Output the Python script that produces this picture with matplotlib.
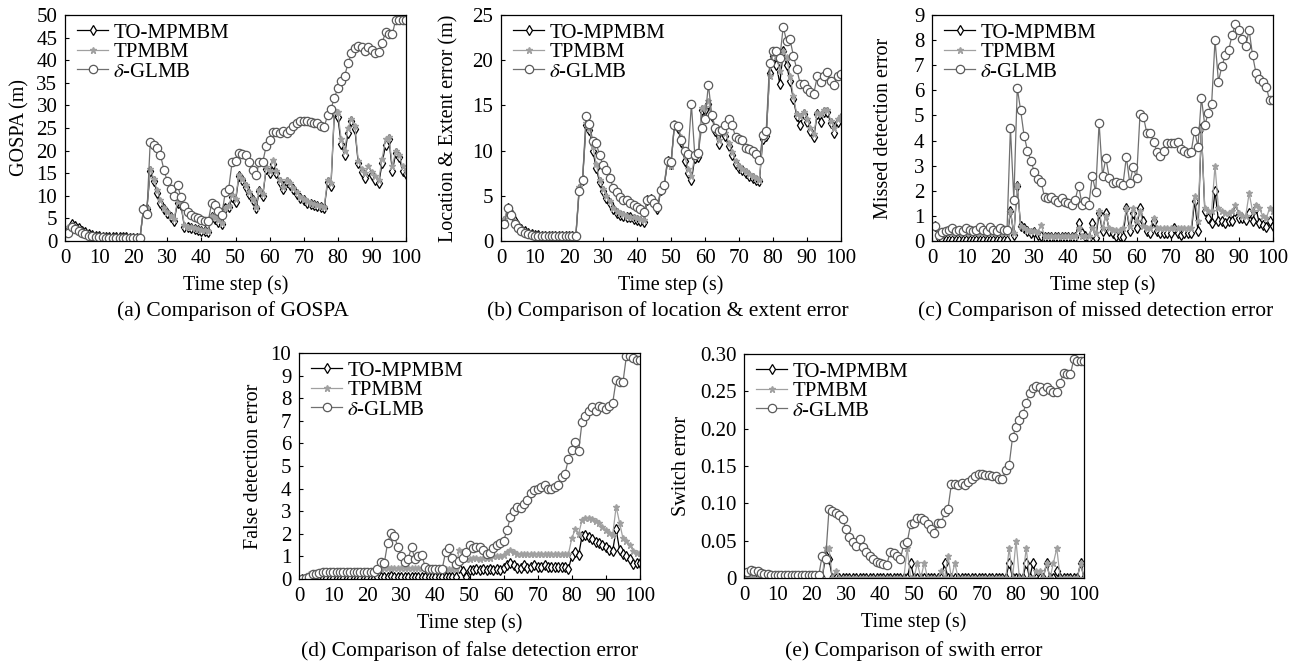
import numpy as np
import matplotlib
matplotlib.use("Agg")
import matplotlib.pyplot as plt
from matplotlib.ticker import FuncFormatter

plt.rcParams['font.family'] = ['Liberation Serif', 'DejaVu Serif']
plt.rcParams['mathtext.fontset'] = 'stix'

steps = list(range(1, 101))
labels = ['TO-MPMBM', 'TPMBM', r'$\delta$-GLMB']

# ---------------- (a) GOSPA ----------------
a_to = [2.5, 3.8, 3.3, 2.8, 2.3, 1.9, 1.6, 1.3, 1.1, 1.0,
        0.9, 0.9, 0.8, 0.8, 0.8, 0.8, 0.8, 0.8, 0.7, 0.7,
        0.7, 0.7, 7.0, 7.0, 15.5, 13.3, 10.7, 8.5, 7.0, 6.2,
        5.2, 4.5, 8.5, 8.0, 3.2, 3.0, 2.8, 2.6, 2.5, 2.3,
        2.2, 2.1, 5.3, 4.8, 4.3, 3.7, 7.2, 7.5, 9.8, 8.7,
        14.3, 13.5, 12.0, 10.5, 9.0, 7.2, 11.0, 10.0, 16.0, 15.0,
        17.0, 15.0, 13.0, 11.5, 13.0, 12.5, 11.5, 10.5, 9.5, 9.0,
        8.5, 8.2, 8.0, 7.7, 7.5, 7.2, 13.0, 12.2, 28.5, 27.5,
        21.5, 19.0, 24.0, 26.5, 24.8, 17.2, 15.3, 14.0, 15.5, 14.5,
        13.5, 12.8, 17.2, 21.3, 22.5, 15.5, 19.5, 18.5, 15.5, 14.8]
a_tp = [3.0, 3.5, 3.0, 2.6, 2.1, 1.7, 1.4, 1.2, 1.0, 0.9,
        0.9, 0.9, 0.9, 0.9, 0.9, 0.9, 0.9, 0.9, 0.8, 0.8,
        0.8, 0.8, 7.2, 7.2, 16.0, 13.8, 11.2, 9.0, 7.3, 6.5,
        5.6, 4.9, 8.8, 8.3, 3.5, 3.2, 3.0, 2.8, 2.7, 2.5,
        2.4, 2.3, 5.6, 5.2, 4.6, 4.0, 7.4, 7.7, 10.2, 9.2,
        14.7, 13.8, 12.3, 10.8, 9.3, 7.6, 11.3, 10.3, 16.3, 15.5,
        18.0, 15.5, 13.5, 12.0, 13.5, 12.8, 11.8, 10.8, 9.8, 9.2,
        8.8, 8.5, 8.2, 8.0, 7.8, 7.5, 13.5, 12.8, 29.0, 28.5,
        22.5, 20.0, 25.0, 27.0, 25.5, 17.8, 16.0, 15.0, 16.5, 15.3,
        14.3, 13.5, 18.2, 22.5, 23.0, 16.5, 20.0, 19.0, 16.5, 15.5]
a_gl = [1.8, 3.0, 2.7, 2.2, 1.8, 1.5, 1.2, 1.0, 0.9, 0.8,
        0.8, 0.7, 0.7, 0.7, 0.7, 0.7, 0.7, 0.7, 0.7, 0.7,
        0.7, 0.7, 7.0, 6.0, 22.0, 21.3, 20.5, 19.0, 15.8, 13.2,
        11.5, 10.0, 12.3, 9.7, 7.8, 6.5, 5.8, 5.3, 5.0, 4.7,
        4.5, 4.4, 8.3, 8.0, 6.7, 5.8, 10.8, 11.6, 17.4, 17.6,
        19.5, 19.3, 19.0, 17.5, 15.8, 14.5, 17.5, 17.5, 21.0, 22.3,
        24.2, 24.2, 24.0, 24.3, 24.0, 24.5, 25.5, 26.2, 26.5, 26.6,
        26.5, 26.4, 26.2, 26.0, 25.5, 25.2, 27.8, 29.2, 31.7, 33.8,
        35.5, 36.5, 39.3, 41.5, 42.8, 43.2, 43.0, 42.0, 43.0, 42.2,
        41.6, 41.8, 43.8, 46.2, 45.8, 45.8, 49.0, 49.0, 48.8, 48.8]

# ---------------- (b) Location & extent ----------------
b_to = [2.2, 3.6, 3.1, 2.2, 1.7, 1.3, 1.1, 0.9, 0.8, 0.7,
        0.7, 0.6, 0.6, 0.6, 0.6, 0.6, 0.6, 0.6, 0.5, 0.5,
        0.5, 0.5, 5.8, 6.8, 12.8, 12.3, 10.0, 8.1, 6.5, 5.5,
        4.8, 4.2, 3.5, 3.1, 2.9, 2.8, 2.7, 2.6, 2.4, 2.3,
        2.2, 2.1, 4.5, 4.7, 4.2, 3.5, 5.6, 6.1, 8.8, 8.5,
        12.8, 12.5, 11.0, 8.8, 7.5, 6.7, 9.2, 9.3, 14.5, 14.5,
        15.2, 13.8, 12.2, 10.7, 12.2, 11.6, 10.5, 9.5, 8.5, 8.1,
        7.8, 7.5, 7.2, 7.0, 6.8, 6.6, 11.3, 11.6, 18.6, 20.5,
        19.5, 17.4, 21.0, 19.5, 17.7, 15.7, 13.8, 12.8, 14.0, 13.2,
        12.2, 11.5, 14.0, 13.2, 14.3, 14.3, 13.0, 12.0, 13.2, 13.6]
b_tp = [2.4, 3.7, 3.0, 2.1, 1.6, 1.2, 1.0, 0.9, 0.8, 0.7,
        0.7, 0.7, 0.6, 0.6, 0.6, 0.6, 0.6, 0.6, 0.6, 0.6,
        0.6, 0.6, 6.0, 7.0, 13.0, 12.5, 10.5, 8.5, 6.8, 5.8,
        5.0, 4.4, 3.7, 3.3, 3.1, 3.0, 2.8, 2.7, 2.6, 2.5,
        2.4, 2.3, 4.6, 4.8, 4.4, 3.8, 5.8, 6.3, 9.0, 8.3,
        13.0, 12.7, 11.5, 9.5, 8.0, 7.2, 9.5, 9.6, 14.7, 14.8,
        15.5, 14.0, 12.5, 11.2, 12.5, 12.0, 10.8, 9.8, 8.8, 8.3,
        8.0, 7.7, 7.4, 7.2, 7.0, 6.8, 11.5, 11.8, 18.3, 20.8,
        20.5, 18.8, 21.0, 20.3, 18.3, 16.0, 14.0, 13.8, 14.3, 13.5,
        12.5, 11.8, 14.2, 14.0, 14.5, 14.5, 13.3, 12.5, 13.5, 13.8]
b_gl = [1.9, 3.6, 2.9, 1.9, 1.4, 1.1, 0.9, 0.8, 0.7, 0.6,
        0.6, 0.6, 0.6, 0.5, 0.5, 0.5, 0.5, 0.5, 0.5, 0.5,
        0.5, 0.5, 5.5, 6.8, 13.8, 12.9, 11.1, 10.8, 9.5, 8.4,
        7.8, 7.0, 5.9, 5.4, 4.9, 4.5, 4.5, 4.2, 4.0, 3.8,
        3.5, 3.2, 4.5, 4.7, 4.2, 3.8, 5.6, 6.2, 8.9, 8.7,
        12.8, 12.7, 11.2, 10.0, 9.6, 15.1, 9.5, 9.7, 12.5, 13.5,
        17.3, 13.9, 12.5, 12.2, 12.3, 12.8, 13.5, 12.8, 11.5, 11.3,
        11.2, 10.3, 10.2, 10.0, 9.6, 9.0, 11.7, 12.2, 19.7, 21.0,
        21.0, 20.2, 23.7, 22.1, 22.3, 20.5, 19.0, 17.4, 17.4, 16.8,
        16.5, 16.3, 18.2, 17.6, 18.2, 18.7, 17.7, 17.3, 18.2, 18.5]

# ---------------- (c) Missed detection ----------------
c_to = [0.6, 0.1, 0.05, 0.05, 0.05, 0.05, 0.05, 0.05, 0.05, 0.05,
        0.05, 0.05, 0.05, 0.05, 0.05, 0.05, 0.05, 0.05, 0.05, 0.05,
        0.05, 0.05, 1.2, 0.25, 2.2, 0.6, 0.5, 0.4, 0.3, 0.35,
        0.25, 0.2, 0.15, 0.15, 0.15, 0.15, 0.15, 0.15, 0.15, 0.15,
        0.15, 0.15, 0.7, 0.3, 0.2, 0.1, 0.7, 0.1, 1.1, 0.4,
        1.1, 0.4, 0.3, 0.2, 0.2, 0.15, 1.3, 0.4, 1.1, 0.5,
        1.3, 0.8, 0.4, 0.3, 0.8, 0.4, 0.3, 0.3, 0.3, 0.3,
        0.5, 0.3, 0.25, 0.3, 0.3, 0.3, 1.6, 0.4, 4.5, 1.2,
        0.9, 0.7, 2.0, 0.8, 0.8, 0.7, 0.8, 0.8, 1.2, 0.9,
        0.9, 0.85, 1.1, 0.8, 1.3, 0.7, 0.65, 0.55, 0.8, 0.6]
c_tp = [0.6, 0.2, 0.3, 0.3, 0.3, 0.3, 0.3, 0.3, 0.3, 0.3,
        0.3, 0.3, 0.3, 0.3, 0.3, 0.3, 0.3, 0.3, 0.3, 0.3,
        0.3, 0.3, 1.2, 0.3, 2.25, 0.6, 0.5, 0.45, 0.4, 0.4,
        0.35, 0.65, 0.2, 0.2, 0.2, 0.2, 0.2, 0.2, 0.2, 0.2,
        0.2, 0.2, 0.5, 0.2, 0.2, 0.2, 0.5, 0.3, 1.2, 0.5,
        1.0, 0.5, 0.45, 0.45, 0.45, 0.5, 1.3, 0.6, 1.3, 0.8,
        1.2, 0.6, 0.5, 0.5, 0.9, 0.5, 0.5, 0.5, 0.5, 0.5,
        0.5, 0.5, 0.5, 0.5, 0.5, 0.5, 1.8, 0.8, 4.5, 1.3,
        1.2, 1.2, 3.0, 1.3, 1.2, 1.1, 1.1, 1.2, 1.45, 1.1,
        1.0, 1.0, 1.9, 1.2, 1.45, 1.3, 1.0, 0.9, 1.3, 1.2]
c_gl = [0.6, 0.25, 0.35, 0.4, 0.45, 0.5, 0.4, 0.45, 0.4, 0.5,
        0.45, 0.4, 0.45, 0.55, 0.45, 0.4, 0.55, 0.45, 0.4, 0.5,
        0.45, 0.45, 4.5, 1.65, 6.1, 5.2, 4.2, 3.6, 3.2, 2.75,
        2.45, 2.35, 1.75, 1.7, 1.75, 1.65, 1.55, 1.7, 1.55, 1.5,
        1.45, 1.65, 2.2, 1.45, 1.6, 1.45, 2.6, 1.95, 4.7, 2.6,
        3.3, 2.5, 2.3, 2.35, 2.3, 2.25, 3.35, 2.3, 2.95, 2.5,
        5.05, 4.95, 4.3, 4.3, 3.95, 3.55, 3.4, 3.6, 3.9, 3.9,
        3.9, 3.95, 3.65, 3.6, 3.5, 3.55, 4.4, 3.75, 5.7, 4.6,
        5.1, 5.45, 8.0, 6.35, 6.95, 7.4, 7.6, 8.2, 8.65, 8.4,
        8.05, 7.75, 8.4, 7.4, 6.7, 6.45, 6.35, 6.15, 5.6, 5.6]

# ---------------- (d) False detection ----------------
d_to = [0.0, 0.0, 0.0, 0.05, 0.05, 0.05, 0.05, 0.05, 0.05, 0.05,
        0.05, 0.05, 0.05, 0.05, 0.05, 0.05, 0.05, 0.05, 0.05, 0.05,
        0.05, 0.05, 0.1, 0.1, 0.1, 0.1, 0.15, 0.1, 0.1, 0.1,
        0.1, 0.1, 0.1, 0.1, 0.1, 0.1, 0.1, 0.1, 0.1, 0.1,
        0.1, 0.1, 0.1, 0.1, 0.1, 0.1, 0.5, 0.35, 0.1, 0.4,
        0.4, 0.45, 0.4, 0.45, 0.4, 0.45, 0.4, 0.45, 0.4, 0.5,
        0.6, 0.7, 0.6, 0.5, 0.5, 0.6, 0.5, 0.55, 0.6, 0.55,
        0.55, 0.6, 0.55, 0.55, 0.55, 0.55, 0.55, 0.55, 0.45, 1.0,
        1.2, 1.05, 1.9, 1.95, 1.85, 1.75, 1.65, 1.6, 1.5, 1.4,
        1.3, 1.25, 2.2, 1.3, 1.1, 1.0, 0.9, 0.65, 0.7, 0.7]
d_tp = [0.0, 0.1, 0.2, 0.25, 0.2, 0.25, 0.3, 0.3, 0.3, 0.3,
        0.3, 0.3, 0.3, 0.3, 0.3, 0.3, 0.3, 0.3, 0.3, 0.3,
        0.3, 0.3, 0.35, 0.45, 0.5, 0.5, 0.5, 0.5, 0.5, 0.5,
        0.5, 0.5, 0.5, 0.5, 0.5, 0.5, 0.55, 0.5, 0.45, 0.45,
        0.45, 0.45, 0.45, 0.45, 0.45, 0.45, 1.3, 1.2, 0.9, 0.9,
        0.95, 0.95, 0.9, 0.95, 0.95, 0.95, 1.0, 1.0, 1.0, 1.05,
        1.2, 1.3, 1.2, 1.1, 1.1, 1.1, 1.1, 1.1, 1.1, 1.1,
        1.1, 1.1, 1.1, 1.1, 1.1, 1.1, 1.1, 1.1, 1.1, 1.8,
        2.2, 2.0, 2.6, 2.7, 2.7, 2.65, 2.55, 2.5, 2.3, 2.15,
        2.05, 1.95, 3.2, 2.5, 1.8, 1.7, 1.5, 1.25, 1.15, 1.15]
d_gl = [0.0, 0.05, 0.1, 0.2, 0.2, 0.25, 0.3, 0.3, 0.3, 0.3,
        0.3, 0.3, 0.3, 0.3, 0.3, 0.3, 0.3, 0.3, 0.3, 0.3,
        0.3, 0.3, 0.45, 0.75, 0.7, 1.6, 2.05, 1.9, 1.4, 1.0,
        0.75, 0.9, 1.4, 0.9, 1.0, 1.05, 0.55, 0.45, 0.45, 0.45,
        0.45, 0.45, 1.2, 1.35, 0.95, 0.65, 0.8, 0.95, 1.2, 1.5,
        1.35, 1.4, 1.4, 1.3, 1.1, 1.15, 1.35, 1.5, 1.6, 1.7,
        2.15, 2.75, 3.0, 3.2, 3.15, 3.3, 3.5, 3.8, 3.95, 4.0,
        4.05, 4.15, 4.0, 4.0, 4.05, 4.15, 4.5, 4.65, 5.3, 5.7,
        6.05, 5.65, 6.95, 7.2, 7.45, 7.6, 7.45, 7.65, 7.6, 7.5,
        7.65, 7.8, 8.8, 8.7, 8.7, 9.85, 9.85, 9.8, 9.7, 9.7]

# ---------------- (e) Switch error ----------------
e_to = [0, 0, 0, 0, 0, 0, 0, 0, 0, 0,
        0, 0, 0, 0, 0, 0, 0, 0, 0, 0,
        0, 0, 0, 0.03, 0.025, 0, 0, 0, 0, 0,
        0, 0, 0, 0, 0, 0, 0, 0, 0, 0,
        0, 0, 0, 0, 0, 0, 0, 0, 0.02, 0,
        0, 0, 0, 0, 0, 0, 0, 0, 0.02, 0,
        0, 0, 0, 0, 0, 0, 0, 0, 0, 0,
        0, 0, 0, 0, 0, 0, 0, 0.02, 0, 0,
        0, 0, 0.02, 0, 0.02, 0, 0, 0, 0.02, 0,
        0, 0.01, 0, 0, 0, 0, 0, 0, 0.02, 0]
e_tp = [0, 0, 0, 0, 0, 0, 0, 0, 0, 0,
        0, 0, 0, 0, 0, 0, 0, 0, 0, 0,
        0, 0, 0, 0.04, 0.04, 0, 0.01, 0, 0, 0,
        0, 0, 0, 0, 0, 0, 0, 0, 0, 0,
        0, 0, 0, 0, 0, 0, 0, 0.04, 0, 0,
        0.02, 0, 0.02, 0, 0, 0, 0, 0.01, 0, 0.03,
        0, 0.02, 0, 0, 0, 0, 0, 0, 0, 0,
        0, 0, 0, 0, 0, 0, 0, 0.04, 0, 0.05,
        0, 0, 0.04, 0, 0, 0.01, 0.01, 0, 0.02, 0,
        0.02, 0.04, 0, 0, 0, 0, 0, 0, 0.02, 0]
e_gl = [0.008, 0.011, 0.010, 0.009, 0.007, 0.006, 0.005, 0.004, 0.004, 0.004,
        0.004, 0.004, 0.004, 0.004, 0.004, 0.004, 0.004, 0.004, 0.004, 0.004,
        0.004, 0.004, 0.030, 0.025, 0.092, 0.090, 0.087, 0.084, 0.079, 0.066,
        0.055, 0.048, 0.043, 0.052, 0.041, 0.035, 0.030, 0.026, 0.022, 0.020,
        0.019, 0.018, 0.035, 0.034, 0.030, 0.026, 0.045, 0.048, 0.072, 0.074,
        0.081, 0.080, 0.078, 0.072, 0.066, 0.060, 0.073, 0.073, 0.088, 0.093,
        0.126, 0.126, 0.125, 0.127, 0.125, 0.128, 0.133, 0.137, 0.139, 0.139,
        0.138, 0.138, 0.137, 0.136, 0.133, 0.132, 0.145, 0.152, 0.189, 0.202,
        0.212, 0.220, 0.234, 0.248, 0.255, 0.257, 0.256, 0.250, 0.256, 0.252,
        0.249, 0.249, 0.261, 0.275, 0.273, 0.273, 0.293, 0.291, 0.290, 0.290]

panels = [
    dict(data=(a_to, a_tp, a_gl), ylim=(0, 50), yticks=[0, 5, 10, 15, 20, 25, 30, 35, 40, 45, 50],
         ylabel='GOSPA (m)', caption='(a) Comparison of GOSPA', fmt='int'),
    dict(data=(b_to, b_tp, b_gl), ylim=(0, 25), yticks=[0, 5, 10, 15, 20, 25],
         ylabel='Location & Extent error (m)', caption='(b) Comparison of location & extent error', fmt='int'),
    dict(data=(c_to, c_tp, c_gl), ylim=(0, 9), yticks=[0, 1, 2, 3, 4, 5, 6, 7, 8, 9],
         ylabel='Missed detection error', caption='(c) Comparison of missed detection error', fmt='int'),
    dict(data=(d_to, d_tp, d_gl), ylim=(0, 10), yticks=[0, 1, 2, 3, 4, 5, 6, 7, 8, 9, 10],
         ylabel='False detection error', caption='(d) Comparison of false detection error', fmt='int'),
    dict(data=(e_to, e_tp, e_gl), ylim=(0, 0.30), yticks=[0, 0.05, 0.10, 0.15, 0.20, 0.25, 0.30],
         ylabel='Switch error', caption='(e) Comparison of swith error', fmt='2f'),
]

W, H = 1296, 665
# left, top, right, bottom (px), ylabel centre x (px), xlabel centre y (px), caption centre (x, y) px
boxes = [
    (65, 15, 406, 241, 20, 285, 233, 311),
    (501, 15, 841, 241, 449, 285, 668, 311),
    (932, 15, 1273, 241, 884, 285, 1096, 311),
    (299, 353, 640, 579, 253, 623, 470, 651),
    (744, 354, 1084, 578, 682, 622, 914, 651),
]

fig = plt.figure(figsize=(W / 100, H / 100), dpi=100)
FS = 15

styles = [
    dict(color='black', marker='d', markersize=5.5, markerfacecolor='white',
         markeredgecolor='black', markeredgewidth=0.9, linewidth=0.9),
    dict(color='#a0a0a0', marker='*', markersize=5, markerfacecolor='#a0a0a0',
         markeredgecolor='#a0a0a0', linewidth=0.9),
    dict(color='#707070', marker='o', markersize=6, markerfacecolor='white',
         markeredgecolor='#5a5a5a', markeredgewidth=0.9, linewidth=0.9),
]

for p, (l, t, r, b, ylx, xly, cx, cy) in zip(panels, boxes):
    ax = fig.add_axes([l / W, (H - b) / H, (r - l) / W, (b - t) / H])
    for series, lab, st in zip(p['data'], labels, styles):
        ax.plot(steps, series, label=lab, **st)
    ax.set_xlim(0, 100)
    ax.set_ylim(*p['ylim'])
    ax.set_xticks(range(0, 101, 10))
    ax.set_yticks(p['yticks'])
    if p['fmt'] == 'int':
        ax.yaxis.set_major_formatter(FuncFormatter(lambda v, pos: '%d' % round(v)))
    else:
        ax.yaxis.set_major_formatter(FuncFormatter(lambda v, pos: '0' if abs(v) < 1e-9 else '%.2f' % v))
    ax.tick_params(direction='in', length=3, width=0.8, labelsize=FS, pad=5.5)
    for s in ax.spines.values():
        s.set_linewidth(0.9)
    ax.set_xlabel('Time step (s)', fontsize=14.5, va='center')
    ax.xaxis.set_label_coords(0.5, -(xly - b) / (b - t))
    ax.set_ylabel(p['ylabel'], fontsize=14.5, va='center')
    ax.yaxis.set_label_coords(-(l - ylx) / (r - l), 0.5)
    ax.legend(loc='upper left', bbox_to_anchor=(12 / (r - l), 1 - 8 / (b - t)),
              frameon=False, fontsize=FS, handlelength=1.5,
              handletextpad=0.25, labelspacing=0.0, borderaxespad=0.0, borderpad=0.0)
    fig.text(cx / W, (H - cy) / H, p['caption'], ha='center', va='center', fontsize=15.5)

fig.savefig('out.png', dpi=100)
